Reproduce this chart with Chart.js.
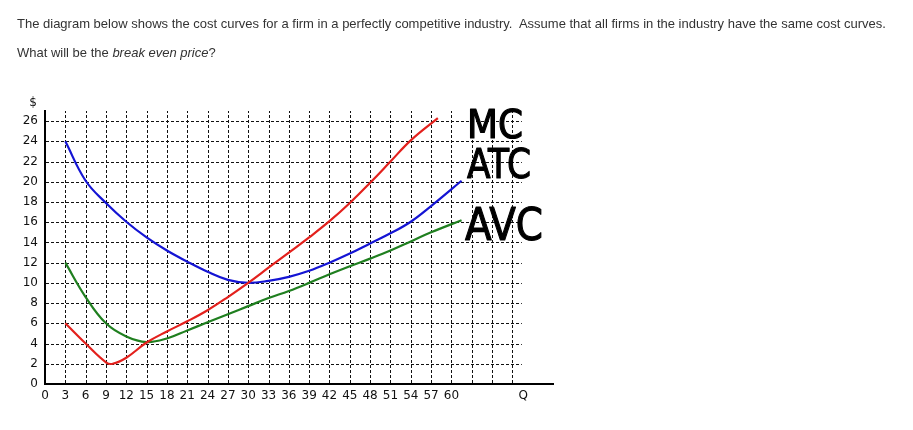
<!DOCTYPE html>
<html>
<head>
<meta charset="utf-8">
<script src="https://cdn.jsdelivr.net/npm/chart.js@4.4.1/dist/chart.umd.min.js"></script>
<style>
  body { margin: 0; background: #fff; }
  .txt { position: absolute; left: 17px; font: 13px Arial, "Liberation Sans", sans-serif; color: #333; white-space: pre; line-height: 16px; }
  #wrap { position: absolute; left: 0; top: 0; width: 913px; height: 430px; }
</style>
</head>
<body>
<div id="wrap"><canvas id="cost-chart"></canvas></div>
<div class="txt" style="top:16px">The diagram below shows the cost curves for a firm in a perfectly competitive industry.  Assume that all firms in the industry have the same cost curves.</div>
<div class="txt" style="top:45px">What will be the <i>break even price</i>?</div>
<script>
// quantities and costs
const mcQ  = [3, 6, 9, 10, 12, 15, 18, 21, 24, 27, 30, 33, 36, 39, 42, 45, 48, 51, 54, 58];
const mcY  = [6, 4.0, 2.15, 2.0, 2.6, 4.1, 5.2, 6.2, 7.3, 8.6, 10, 11.5, 13.0, 14.5, 16.1, 17.9, 19.9, 22, 24.1, 26.3];
const atcQ = [3, 6, 9, 12, 15, 18, 21, 24, 27, 30, 33, 36, 39, 42, 45, 48, 51, 54, 57, 61.5];
const atcY = [24, 20.1, 17.9, 16.05, 14.5, 13.2, 12.1, 11.1, 10.3, 10.0, 10.2, 10.6, 11.2, 12.0, 12.9, 13.9, 14.9, 16.05, 17.6, 20.1];
const avcQ = [3, 6, 9, 12, 15, 18, 21, 24, 27, 30, 33, 36, 39, 42, 45, 48, 51, 54, 57, 61.5];
const avcY = [12, 8.6, 6.0, 4.7, 4.15, 4.5, 5.3, 6.1, 6.9, 7.7, 8.5, 9.2, 10.0, 10.85, 11.65, 12.4, 13.2, 14.1, 15.0, 16.2];

const xTicks = [0, 3, 6, 9, 12, 15, 18, 21, 24, 27, 30, 33, 36, 39, 42, 45, 48, 51, 54, 57, 60];
const yTicks = [0, 2, 4, 6, 8, 10, 12, 14, 16, 18, 20, 22, 24, 26];
const gridQ = [3, 6, 9, 12, 15, 18, 21, 24, 27, 30, 33, 36, 39, 42, 45, 48, 51, 54, 57, 60, 63, 66, 69];
const gridPrice = [2, 4, 6, 8, 10, 12, 14, 16, 18, 20, 22, 24, 26];

const toPoints = (xs, ys) => xs.map((x, i) => ({ x: x, y: ys[i] }));
const tickFont = { family: 'DejaVu Sans', size: 12 };

// dashed grid, drawn under the curves
const dashedGrid = {
  id: 'dashedGrid',
  beforeDatasetsDraw(chart) {
    const { ctx, scales: { x, y } } = chart;
    ctx.save();
    ctx.strokeStyle = '#111';
    ctx.lineWidth = 1;
    ctx.setLineDash([3, 2]);
    const y0 = y.getPixelForValue(0), yTop = y.getPixelForValue(27);
    gridQ.forEach(q => {
      const px = Math.round(x.getPixelForValue(q)) + 0.5;
      ctx.beginPath(); ctx.moveTo(px, y0 - 1); ctx.lineTo(px, yTop); ctx.stroke();
    });
    const x0 = x.getPixelForValue(0), xEnd = x.getPixelForValue(70.4);
    gridPrice.forEach(p => {
      const py = Math.round(y.getPixelForValue(p)) + 0.5;
      ctx.beginPath(); ctx.moveTo(x0 + 1, py); ctx.lineTo(xEnd, py); ctx.stroke();
    });
    ctx.restore();
  }
};

// axis names and the hand-written curve labels
const annotations = {
  id: 'annotations',
  afterDraw(chart) {
    const { ctx, scales: { x } } = chart;
    ctx.save();
    ctx.fillStyle = '#111';
    ctx.font = '12px "DejaVu Sans"';
    ctx.textAlign = 'center';
    ctx.textBaseline = 'middle';
    ctx.fillText('$', 33, 103);
    ctx.fillText('Q', x.getPixelForValue(70.6), 396);

    const hand = [
      { t: 'MC',  left: 467, top: 110, w: 56, h: 28 },
      { t: 'ATC', left: 467, top: 148, w: 64, h: 30 },
      { t: 'AVC', left: 465, top: 207, w: 78, h: 33 }
    ];
    hand.forEach(l => {
      const size = l.h / 0.73;
      ctx.font = size + 'px "DejaVu Sans"';
      const w = ctx.measureText(l.t).width;
      ctx.save();
      ctx.translate(l.left, l.top + l.h);
      ctx.scale(l.w / w, 1);
      ctx.textAlign = 'left';
      ctx.textBaseline = 'alphabetic';
      ctx.fillStyle = '#000';
      ctx.strokeStyle = '#000';
      ctx.lineWidth = 1.2;
      ctx.lineJoin = 'round';
      ctx.fillText(l.t, 0, 0);
      ctx.strokeText(l.t, 0, 0);
      ctx.restore();
    });
    ctx.restore();
  }
};

const lineStyle = { pointRadius: 0, borderWidth: 2.2, tension: 0.4, fill: false };

new Chart(document.getElementById('cost-chart'), {
  type: 'line',
  data: {
    datasets: [
      Object.assign({ label: 'MC',  data: toPoints(mcQ, mcY),   borderColor: '#e3201c' }, lineStyle),
      Object.assign({ label: 'ATC', data: toPoints(atcQ, atcY), borderColor: '#1414d4' }, lineStyle),
      Object.assign({ label: 'AVC', data: toPoints(avcQ, avcY), borderColor: '#1f7f1f' }, lineStyle)
    ]
  },
  options: {
    responsive: true,
    maintainAspectRatio: false,
    animation: false,
    layout: { padding: { left: 0, top: 111, right: 360, bottom: 0 } },
    plugins: { legend: { display: false }, tooltip: { enabled: false } },
    scales: {
      x: {
        type: 'linear', min: 0, max: 75,
        grid: { display: false, drawTicks: false },
        border: { display: true, color: '#000', width: 2 },
        ticks: { autoSkip: false, maxRotation: 0, padding: 5, color: '#111', font: tickFont },
        afterBuildTicks: s => { s.ticks = xTicks.map(v => ({ value: v })); },
        afterFit: s => { s.height = 46; }
      },
      y: {
        type: 'linear', min: 0, max: 27,
        grid: { display: false, drawTicks: false },
        border: { display: true, color: '#000', width: 2 },
        ticks: { autoSkip: false, padding: 7, color: '#111', font: tickFont },
        afterBuildTicks: s => { s.ticks = yTicks.map(v => ({ value: v })); },
        afterFit: s => { s.width = 45; }
      }
    }
  },
  plugins: [dashedGrid, annotations]
});
</script>
</body>
</html>
